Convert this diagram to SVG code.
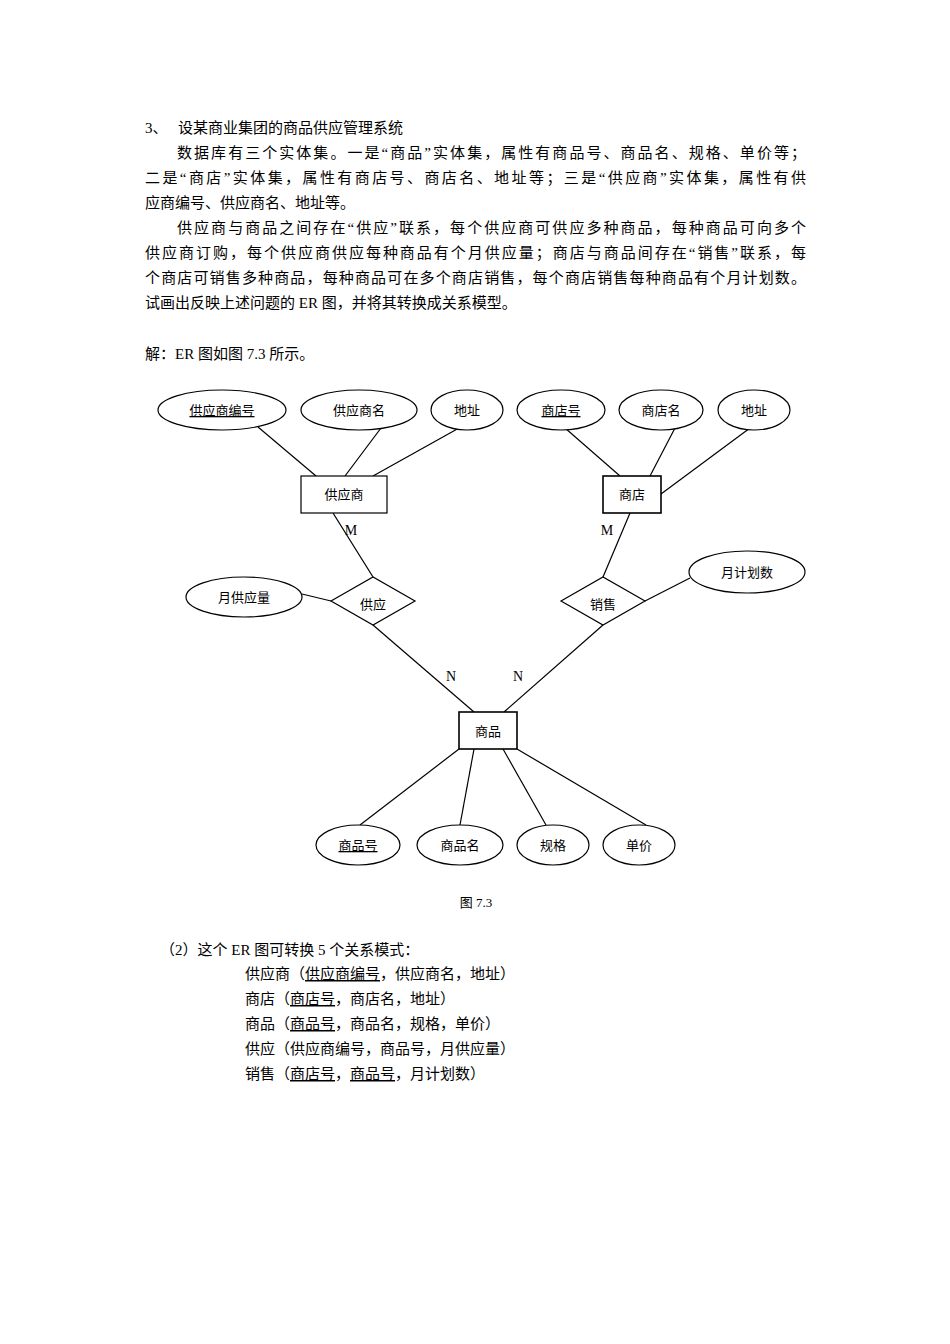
<svg xmlns="http://www.w3.org/2000/svg" width="950" height="1344" viewBox="0 0 950 1344">
<style>
text{font-family:"Liberation Serif","Noto Sans CJK SC",serif;fill:#000}
.p{font-size:15px}
.n{font-size:13px;text-anchor:middle}
.l{font-size:14px;text-anchor:middle}
.s{fill:#fff;stroke:#000;stroke-width:1.2}
.c line{stroke:#000;stroke-width:1.2}
.u{text-decoration:underline}
</style>
<rect width="950" height="1344" fill="#fff"/>
<g id="text">
<text class="p" x="145" y="133">3、</text>
<text class="p" x="178" y="133">设某商业集团的商品供应管理系统</text>
<text class="p" x="177" y="158" textLength="629" lengthAdjust="spacing">数据库有三个实体集。一是“商品”实体集，属性有商品号、商品名、规格、单价等；</text>
<text class="p" x="145" y="183" textLength="661" lengthAdjust="spacing">二是“商店”实体集，属性有商店号、商店名、地址等；三是“供应商”实体集，属性有供</text>
<text class="p" x="145" y="208">应商编号、供应商名、地址等。</text>
<text class="p" x="177" y="233" textLength="629" lengthAdjust="spacing">供应商与商品之间存在“供应”联系，每个供应商可供应多种商品，每种商品可向多个</text>
<text class="p" x="145" y="258" textLength="661" lengthAdjust="spacing">供应商订购，每个供应商供应每种商品有个月供应量；商店与商品间存在“销售”联系，每</text>
<text class="p" x="145" y="283" textLength="661" lengthAdjust="spacing">个商店可销售多种商品，每种商品可在多个商店销售，每个商店销售每种商品有个月计划数。</text>
<text class="p" x="145" y="308">试画出反映上述问题的 ER 图，并将其转换成关系模型。</text>
<text class="p" x="145" y="359">解：ER 图如图 7.3 所示。</text>
<text class="n" x="476" y="907">图 7.3</text>
<text class="p" x="160" y="955">（2）这个 ER 图可转换 5 个关系模式：</text>
<text class="p" x="245" y="979">供应商（<tspan class="u">供应商编号</tspan>，供应商名，地址）</text>
<text class="p" x="245" y="1004">商店（<tspan class="u">商店号</tspan>，商店名，地址）</text>
<text class="p" x="245" y="1029">商品（<tspan class="u">商品号</tspan>，商品名，规格，单价）</text>
<text class="p" x="245" y="1054">供应（供应商编号，商品号，月供应量）</text>
<text class="p" x="245" y="1079">销售（<tspan class="u">商店号</tspan>，<tspan class="u">商品号</tspan>，月计划数）</text>
</g>
<g class="c" id="connectors">
<line x1="258" y1="427" x2="316" y2="476"/>
<line x1="381" y1="428" x2="345" y2="476"/>
<line x1="459" y1="428" x2="373" y2="476"/>
<line x1="565" y1="428" x2="620" y2="476"/>
<line x1="675" y1="428" x2="650" y2="476"/>
<line x1="750" y1="428" x2="661" y2="494"/>
<line x1="333" y1="513" x2="373" y2="577"/>
<line x1="630" y1="513" x2="603" y2="577"/>
<line x1="302" y1="594" x2="331" y2="601"/>
<line x1="690" y1="578" x2="645" y2="601"/>
<line x1="373" y1="625" x2="474" y2="712"/>
<line x1="603" y1="625" x2="504" y2="712"/>
<line x1="459" y1="749" x2="360" y2="825"/>
<line x1="474" y1="749" x2="460" y2="825"/>
<line x1="503" y1="749" x2="546" y2="825"/>
<line x1="517" y1="749" x2="646" y2="825"/>
</g>
<g id="labels">
<text class="l" x="351" y="535">M</text>
<text class="l" x="607" y="535">M</text>
<text class="l" x="451" y="681">N</text>
<text class="l" x="518" y="681">N</text>
</g>
<g id="e1"><ellipse class="s" cx="222" cy="410" rx="64" ry="20"/><text class="n u" x="222" y="415">供应商编号</text></g>
<g id="e2"><ellipse class="s" cx="359" cy="410" rx="58" ry="20"/><text class="n" x="359" y="415">供应商名</text></g>
<g id="e3"><ellipse class="s" cx="467" cy="410" rx="36" ry="20"/><text class="n" x="467" y="415">地址</text></g>
<g id="e4"><ellipse class="s" cx="561" cy="410" rx="44" ry="20"/><text class="n u" x="561" y="415">商店号</text></g>
<g id="e5"><ellipse class="s" cx="661" cy="410" rx="42" ry="20"/><text class="n" x="661" y="415">商店名</text></g>
<g id="e6"><ellipse class="s" cx="754" cy="410" rx="36" ry="20"/><text class="n" x="754" y="415">地址</text></g>
<g id="supplier"><rect class="s" x="301" y="476" width="86" height="37"/><text class="n" x="344" y="499">供应商</text></g>
<g id="shop"><rect class="s" x="603" y="476" width="58" height="37" style="stroke-width:1.6"/><text class="n" x="632" y="499">商店</text></g>
<g id="supply"><polygon class="s" points="331,601 373,577 415,601 373,625"/><text class="n" x="373" y="609">供应</text></g>
<g id="sale"><polygon class="s" points="561,601 603,577 645,601 603,625"/><text class="n" x="603" y="609">销售</text></g>
<g id="e7"><ellipse class="s" cx="244" cy="597" rx="58" ry="20"/><text class="n" x="244" y="602">月供应量</text></g>
<g id="e8"><ellipse class="s" cx="747" cy="572" rx="58" ry="21"/><text class="n" x="747" y="577">月计划数</text></g>
<g id="goods"><rect class="s" x="459" y="712" width="58" height="37" style="stroke-width:1.6"/><text class="n" x="488" y="736">商品</text></g>
<g id="e9"><ellipse class="s" cx="358" cy="845" rx="42" ry="20"/><text class="n u" x="358" y="850">商品号</text></g>
<g id="e10"><ellipse class="s" cx="460" cy="845" rx="43" ry="20"/><text class="n" x="460" y="850">商品名</text></g>
<g id="e11"><ellipse class="s" cx="553" cy="845" rx="36" ry="20"/><text class="n" x="553" y="850">规格</text></g>
<g id="e12"><ellipse class="s" cx="639" cy="845" rx="36" ry="20"/><text class="n" x="639" y="850">单价</text></g>
</svg>
